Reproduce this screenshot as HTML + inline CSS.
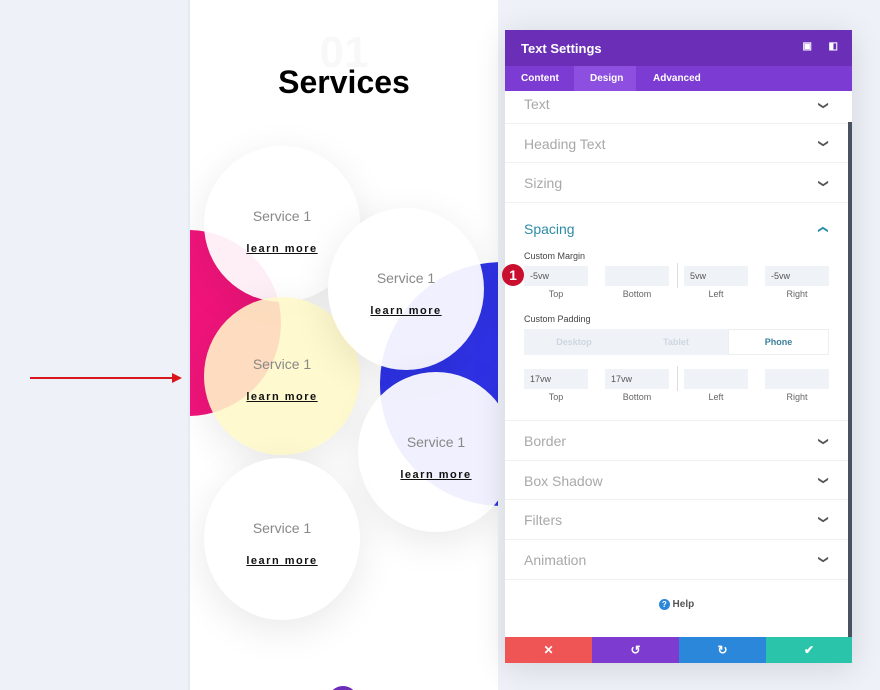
<!DOCTYPE html>
<html><head><meta charset="utf-8"><style>
*{margin:0;padding:0;box-sizing:border-box}
body{width:880px;height:690px;background:#eef2f8;position:relative;overflow:hidden;font-family:"Liberation Sans",sans-serif}
.col{position:absolute;left:188px;top:0;width:310px;height:690px;background:#fff;overflow:hidden;border-left:2px solid #e3ebf5}
.c{position:absolute;border-radius:50%;text-align:center;box-shadow:0 10px 40px rgba(0,0,0,.09)}
.c .s{position:absolute;left:0;right:0;font-size:14px;color:#888;font-weight:300}
.c .l{position:absolute;left:0;right:0;font-size:11px;font-weight:bold;letter-spacing:1.5px;color:#111;text-decoration:underline}
.p{position:absolute;left:505px;top:30px;width:347px;height:633px;background:#fff;box-shadow:0 5px 30px rgba(0,0,0,.12)}
.hd{height:36px;background:#6b2fb7;color:#fff;font-weight:bold;font-size:13px;padding:11px 16px;position:relative}
.tabs{height:25px;background:#7c3bd3;color:#fff;font-weight:bold;font-size:10px;position:relative}
.tabs span{position:absolute;top:7px}
.row{position:absolute;left:0;width:343px;border-bottom:1px solid #f1f1f1;color:#a8a8a8;font-size:14px;padding-left:19px}
.lab{position:absolute;font-size:9px;color:#444}
.inp{position:absolute;height:20px;background:#eff3f8;font-size:9px;color:#555;padding:5px 6px}
.sm{position:absolute;font-size:9px;color:#666;text-align:center;width:64px}
.btn{position:absolute;top:607px;height:26px;width:87px;color:#fff;font-size:12px;text-align:center;line-height:26px;font-weight:bold}
.ch{position:absolute;left:819px;font-size:10px;color:#555;transform:rotate(90deg)}
</style></head><body>
<div class="col">
<div style="position:absolute;left:0;right:0;top:28px;text-align:center;font-size:44px;font-weight:bold;color:#f8f8f8">01</div>
<div style="position:absolute;left:0;right:0;top:64px;text-align:center;font-size:32px;font-weight:bold;color:#000">Services</div>
<div style="position:absolute;left:-95px;top:230px;width:186px;height:186px;border-radius:50%;background:#f0147a"></div>
<div style="position:absolute;left:190px;top:262px;width:244px;height:244px;border-radius:50%;background:#2f33e8"></div>
<div class="c" style="left:14px;top:146px;width:156px;height:156px;background:rgba(255,255,255,.93)"><div class="s" style="top:62px">Service 1</div><div class="l" style="top:97px">learn more</div></div>
<div class="c" style="left:14px;top:297px;width:156px;height:158px;background:rgba(255,248,200,.88)"><div class="s" style="top:59px">Service 1</div><div class="l" style="top:94px">learn more</div></div>
<div class="c" style="left:138px;top:208px;width:156px;height:162px;background:rgba(255,255,255,.93)"><div class="s" style="top:62px">Service 1</div><div class="l" style="top:97px">learn more</div></div>
<div class="c" style="left:168px;top:372px;width:156px;height:160px;background:rgba(255,255,255,.93)"><div class="s" style="top:62px">Service 1</div><div class="l" style="top:97px">learn more</div></div>
<div class="c" style="left:14px;top:458px;width:156px;height:162px;background:#fff"><div class="s" style="top:62px">Service 1</div><div class="l" style="top:97px">learn more</div></div>
<div style="position:absolute;left:138px;top:686px;width:30px;height:30px;border-radius:50%;background:#6c2eb9"></div>
</div>
<svg style="position:absolute;left:28px;top:371px" width="156" height="14"><line x1="2" y1="7" x2="146" y2="7" stroke="#d9161c" stroke-width="2"/><polygon points="154,7 144,2 144,12" fill="#d9161c"/></svg>
<div class="p">
<div class="hd">Text Settings<span style="position:absolute;right:40px;top:11px;font-size:10px">▣</span><span style="position:absolute;right:14px;top:11px;font-size:10px">◧</span></div>
<div class="tabs"><span style="left:16px">Content</span><span style="left:69px;top:0;height:25px;width:62px;background:#8c4fe0;padding:7px 16px">Design</span><span style="left:148px">Advanced</span></div>
<div class="row" style="top:61px;height:33px;padding-top:5px">Text</div>
<div class="row" style="top:94px;height:39px;padding-top:12px">Heading Text</div>
<div class="row" style="top:133px;height:40px;padding-top:12px">Sizing</div>
<div class="row" style="top:173px;height:218px;padding-top:18px;color:#2e8ba6">Spacing</div>
<div class="lab" style="left:19px;top:221px">Custom Margin</div>
<div style="position:absolute;left:-3px;top:234px;width:22px;height:22px;border-radius:50%;background:#c8102e;color:#fff;font-weight:bold;font-size:14px;text-align:center;line-height:22px">1</div>
<div class="inp" style="left:19px;top:236px;width:64px">-5vw</div>
<div class="inp" style="left:100px;top:236px;width:64px"></div>
<div class="inp" style="left:179px;top:236px;width:64px">5vw</div>
<div class="inp" style="left:260px;top:236px;width:64px">-5vw</div>
<div style="position:absolute;left:172px;top:233px;width:1px;height:25px;background:#ddd"></div>
<div class="sm" style="left:19px;top:259px">Top</div><div class="sm" style="left:100px;top:259px">Bottom</div><div class="sm" style="left:179px;top:259px">Left</div><div class="sm" style="left:260px;top:259px">Right</div>
<div class="lab" style="left:19px;top:284px">Custom Padding</div>
<div style="position:absolute;left:19px;top:299px;width:305px;height:26px;background:#eff3f8;font-size:9px;font-weight:bold">
<span style="position:absolute;left:0;width:100px;top:8px;text-align:center;color:#cfd6df">Desktop</span>
<span style="position:absolute;left:102px;width:100px;top:8px;text-align:center;color:#cfd6df">Tablet</span>
<span style="position:absolute;left:204px;width:101px;top:0;height:26px;background:#fff;border:1px solid #eee;padding-top:7px;text-align:center;color:#3b7f9a">Phone</span></div>
<div class="inp" style="left:19px;top:339px;width:64px">17vw</div>
<div class="inp" style="left:100px;top:339px;width:64px">17vw</div>
<div class="inp" style="left:179px;top:339px;width:64px"></div>
<div class="inp" style="left:260px;top:339px;width:64px"></div>
<div style="position:absolute;left:172px;top:336px;width:1px;height:25px;background:#ddd"></div>
<div class="sm" style="left:19px;top:362px">Top</div><div class="sm" style="left:100px;top:362px">Bottom</div><div class="sm" style="left:179px;top:362px">Left</div><div class="sm" style="left:260px;top:362px">Right</div>
<div class="row" style="top:391px;height:40px;padding-top:12px">Border</div>
<div class="row" style="top:431px;height:39px;padding-top:12px">Box Shadow</div>
<div class="row" style="top:470px;height:40px;padding-top:12px">Filters</div>
<div class="row" style="top:510px;height:40px;padding-top:12px">Animation</div>
<div style="position:absolute;left:0;width:343px;top:569px;text-align:center;font-size:10px;color:#555;font-weight:bold"><span style="display:inline-block;width:11px;height:11px;border-radius:50%;background:#2b87da;color:#fff;font-size:8px;line-height:11px">?</span> Help</div>
<div style="position:absolute;left:343px;top:92px;width:4px;height:515px;background:#4a5260"></div>
<div class="btn" style="left:0;background:#ef5555">✕</div>
<div class="btn" style="left:87px;background:#7d3bcf">↺</div>
<div class="btn" style="left:174px;background:#2b87da">↻</div>
<div class="btn" style="left:261px;width:86px;background:#29c4a9">✔</div>
</div>
<div class="ch" style="top:100px">❯</div>
<div class="ch" style="top:138px">❯</div>
<div class="ch" style="top:178px">❯</div>
<div class="ch" style="top:224px;color:#2e8ba6;transform:rotate(-90deg)">❯</div>
<div class="ch" style="top:436px">❯</div>
<div class="ch" style="top:475px">❯</div>
<div class="ch" style="top:514px">❯</div>
<div class="ch" style="top:554px">❯</div>
</body></html>
